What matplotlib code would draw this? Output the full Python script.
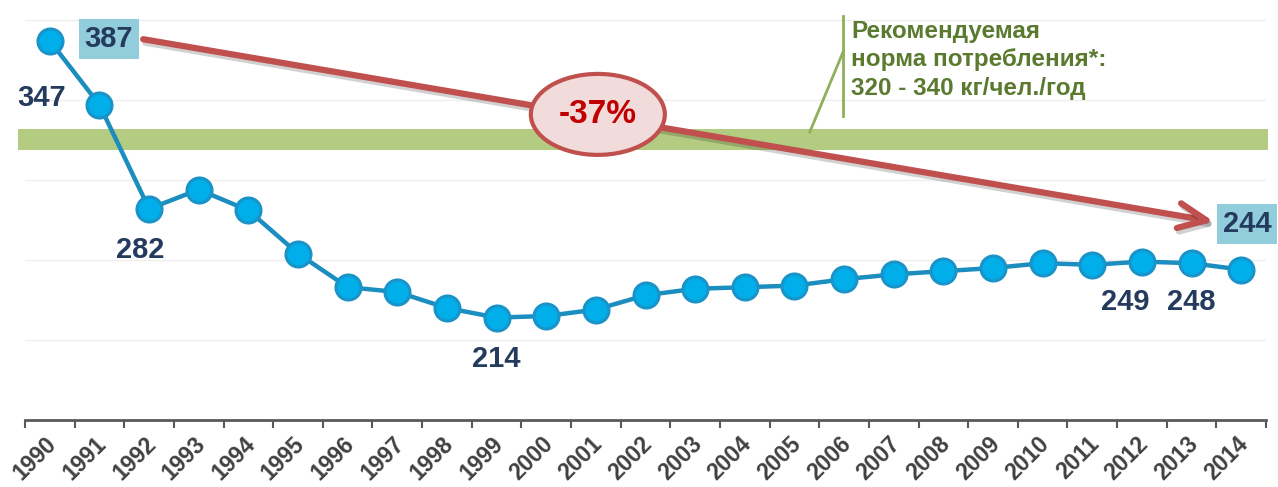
import matplotlib
matplotlib.use("Agg")
import matplotlib.pyplot as plt
from matplotlib.patches import Ellipse
import matplotlib.patheffects as pe
import matplotlib.transforms as mtrans
import numpy as np

years = [str(y) for y in range(1990, 2015)]
values = [387, 347, 282, 294, 281, 254, 233, 230, 220, 214, 215, 219, 228, 232,
          233, 234, 238, 241, 243, 245, 248, 247, 249, 248, 244]
norm_low, norm_high = 319, 332
norm_text = "Рекомендуемая\nнорма потребления*:\n320 - 340 кг/чел./год"
change_text = "-37%"

plt.rcParams['font.family'] = ['Liberation Sans', 'DejaVu Sans']

W, H = 1278, 487
fig = plt.figure(figsize=(W / 100, H / 100), dpi=100)
ax = fig.add_axes([25 / W, (H - 420) / H, 1241 / W, 420 / H])
n = len(years)
x = np.arange(n)
ax.set_xlim(-0.5, n - 0.5)
ax.set_ylim(150, 150 + 420 / 1.6)

for gy in [200, 250, 300, 350, 400]:
    ax.axhline(gy, color='#EFEFEF', lw=1, zorder=0)

ax.axhspan(norm_low, norm_high, xmin=-0.006, xmax=1.002, color='#B3CC82',
           zorder=1, clip_on=False, lw=0)

ax.plot(x, values, color='#1B8DBE', lw=3.2, marker='o', markersize=18,
        markerfacecolor='#00AEEA', markeredgecolor='#1993C8', markeredgewidth=2.2,
        zorder=4)

# arrow
ax.annotate('', xy=(n - 1.55, values[-1] + 30), xytext=(1.88, values[0] + 1),
            arrowprops=dict(arrowstyle='->,head_length=2.0,head_width=0.9',
                            color='#C0504D', lw=4.5, shrinkA=0, shrinkB=0,
                            path_effects=[pe.SimpleLineShadow(offset=(1.5, -2.5), alpha=0.18),
                                          pe.Normal()]),
            zorder=5)
ell = Ellipse((11.04, 341), 2.7, 50.6, facecolor='#F2DCDB', edgecolor='#C0504D',
              lw=3, zorder=6)
ax.add_patch(ell)
ax.text(11.04, 341, change_text, ha='center', va='center', fontsize=24,
        fontweight='bold', color='#C00000', zorder=7)

lab_col = '#243B5E'
box = dict(boxstyle='square,pad=0.2', facecolor='#92CDDC', edgecolor='none')
ax.text(1.19, 388, str(values[0]), ha='center', va='center', fontsize=21,
        fontweight='bold', color=lab_col, bbox=box, zorder=7)
ax.text(24.12, 272.5, str(values[-1]), ha='center', va='center', fontsize=21,
        fontweight='bold', color=lab_col, bbox=box, zorder=7, clip_on=False)
label_pos = {1: (-0.16, 351), 2: (1.82, 256), 9: (9.0, 188), 22: (21.66, 224),
             23: (23.0, 224)}
for idx, (lx, ly) in label_pos.items():
    ax.text(lx, ly, str(values[idx]), ha='center', va='center', fontsize=21,
            fontweight='bold', color=lab_col, zorder=7, clip_on=False)

# norm annotation
gcol = '#5A7A30'
ax.plot([15.98, 15.98], [340, 402.5], color='#8DB05A', lw=2, zorder=3)
ax.plot([15.98, 15.31], [380, 330], color='#8DB05A', lw=2, zorder=3)
ax.text(16.14, 400, norm_text, ha='left', va='top', fontsize=17.5,
        fontweight='bold', color=gcol, linespacing=1.3, zorder=7)

for s in ['top', 'right', 'left']:
    ax.spines[s].set_visible(False)
ax.spines['bottom'].set_color('#595959')
ax.spines['bottom'].set_linewidth(2)
ax.set_yticks([])
ax.set_xticks(np.arange(-0.5, n, 1), minor=False)
ax.set_xticklabels([])
ax.tick_params(axis='x', which='major', length=6, width=1.5, color='#595959')
ax.set_xticks(x, minor=True)
ax.set_xticklabels(years, minor=True, rotation=45, ha='right', va='top',
                   rotation_mode='anchor', fontsize=16.5, fontweight='bold',
                   color='#404040')
ax.tick_params(axis='x', which='minor', length=0, pad=9)
off = mtrans.ScaledTranslation(-5 / 100, 0, fig.dpi_scale_trans)
for lbl in ax.get_xticklabels(minor=True):
    lbl.set_transform(lbl.get_transform() + off)

fig.savefig('out.png', dpi=100)
